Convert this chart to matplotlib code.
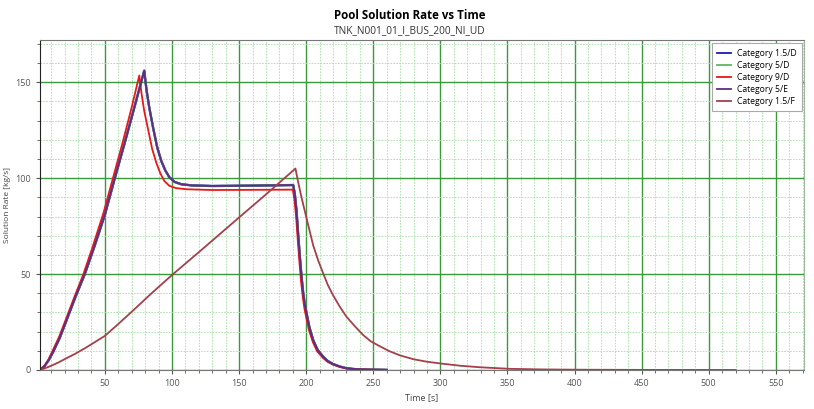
import matplotlib.pyplot as plt
from matplotlib.ticker import MultipleLocator, FixedLocator

plt.rcParams['font.family'] = ['Open Sans', 'DejaVu Sans']

# Category 1.5/D, 5/D and 5/E lie on top of each other
t_fast = [1.6, 5, 8, 11.5, 16.5, 22, 28, 35, 42, 50, 57, 65, 72, 79.3,
          81, 83, 86, 89, 92, 95, 98, 102, 107, 115, 130, 160, 190.3,
          191.5, 192.8, 194, 195.3, 196.5, 197.8, 199, 200.3, 202.5, 205.2, 208.5,
          212.7, 216, 220, 225, 230, 237, 245, 260]
v_fast = [0, 2, 5, 9.5, 17, 27, 38, 50, 64, 81, 99, 119, 137, 156,
          146, 137, 126, 116, 109, 104, 100.5, 98, 96.8, 96.2, 95.9, 96.1, 96.4,
          92, 83, 71, 59, 49, 40, 34, 29.5, 22, 15.6, 10.5,
          6.9, 4.7, 3.1, 1.8, 0.9, 0.4, 0.2, 0.05]

t_9d = [1.6, 5, 8, 11, 16, 21.5, 27.5, 34, 41, 49, 56, 63, 70, 75.6,
        77.3, 79.3, 82.3, 85.3, 88.3, 91.3, 94.3, 98, 103, 111, 130, 160, 190,
        191.2, 192.5, 193.7, 195, 196.2, 197.5, 198.7, 200, 202.2, 205, 208.2,
        212.5, 215.8, 220, 225, 230, 237, 245, 260]
v_9d = [0, 2.2, 5.5, 10, 17.5, 27.5, 38.5, 50, 64.5, 82, 100, 118, 137, 153.5,
        144, 135, 125, 115, 108, 102.5, 98.5, 96, 94.8, 94.2, 93.8, 93.9, 94,
        89, 80, 68, 56, 46, 38, 32, 27.5, 20.5, 14.5, 9.7,
        6.3, 4.3, 2.8, 1.6, 0.8, 0.4, 0.2, 0.05]

t_15f = [1.6, 5, 10, 15, 21, 28, 35, 42, 50, 60, 71, 84, 100, 121, 150, 170, 192,
         194, 196.5, 200.3, 205.2, 209, 212.7, 216, 220, 225, 230, 236, 242.5,
         248, 255, 262, 270, 280, 290, 300, 315, 330, 352, 375, 400, 450, 520]
v_15f = [0, 0.8, 2.2, 3.8, 6, 8.5, 11.3, 14.3, 17.8, 24, 31, 39.5, 49.5, 62, 79.5, 91.5, 105,
         98, 90, 79, 65, 57, 50.3, 44.5, 39, 33, 27.8, 23, 18.2,
         15, 12.3, 9.8, 7.6, 5.6, 4.3, 3.4, 2.2, 1.4, 0.6, 0.3, 0.15, 0.05, 0]

fig = plt.figure(figsize=(8.14, 4.09), dpi=100)
ax = fig.add_axes([0.0491, 0.0954, 0.9386, 0.8068])

ax.plot(t_fast, v_fast, color='#1a1ab8', lw=1.7, label='Category 1.5/D')
ax.plot(t_fast, v_fast, color='#5cb85c', lw=1.5, label='Category 5/D')
ax.plot(t_9d, v_9d, color='#e81818', lw=1.3, label='Category 9/D')
ax.plot(t_fast, v_fast, color='#5e2d88', lw=1.4, label='Category 5/E')
ax.plot(t_15f, v_15f, color='#a3404c', lw=1.3, label='Category 1.5/F')

ax.set_xlim(1.6, 571)
ax.set_ylim(0, 172)

# minor ticks every 10, skipping the major ones
ax.xaxis.set_major_locator(MultipleLocator(50))
ax.xaxis.set_minor_locator(FixedLocator([v for v in range(10, 571, 10) if v % 50]))
ax.yaxis.set_major_locator(MultipleLocator(50))
ax.yaxis.set_minor_locator(FixedLocator([v for v in range(10, 172, 10) if v % 50]))

ax.grid(which='minor', color='#a6dea6', ls=(0, (2, 1.5)), lw=0.6)
ax.grid(which='major', color='#3a9a3a', ls='-', lw=1.0)
ax.set_axisbelow(True)

ax.tick_params(which='both', labelsize=6.5, labelcolor='#555555', color='#555555')
ax.tick_params(which='major', length=3)
ax.tick_params(which='minor', length=2.5)

for side in ['top', 'bottom']:
    ax.spines[side].set_color('#777777')
ax.spines['left'].set_color('#222222')
ax.spines['right'].set_color('#99bb99')

ax.set_xlabel('Time [s]', fontsize=6.5, color='#444444', labelpad=4)
ax.set_ylabel('Solution Rate [kg/s]', fontsize=6, color='#444444', labelpad=3)

fig.text(0.503, 0.961, 'Pool Solution Rate vs Time', ha='center', va='center',
         fontsize=8.3, fontweight='bold')
fig.text(0.503, 0.926, 'TNK_N001_01_I_BUS_200_NI_UD', ha='center', va='center',
         fontsize=7.3, color='#333333')

leg = ax.legend(loc='upper right', fontsize=6.2, handlelength=1.6, borderpad=0.6,
                labelspacing=0.35, fancybox=False, framealpha=1, borderaxespad=0.2,
                bbox_to_anchor=(1.0, 0.995))
leg.get_frame().set_edgecolor('#aaaaaa')
leg.get_frame().set_linewidth(0.8)
for line in leg.get_lines():
    line.set_linewidth(1.3)

fig.savefig('out.png', dpi=100)
